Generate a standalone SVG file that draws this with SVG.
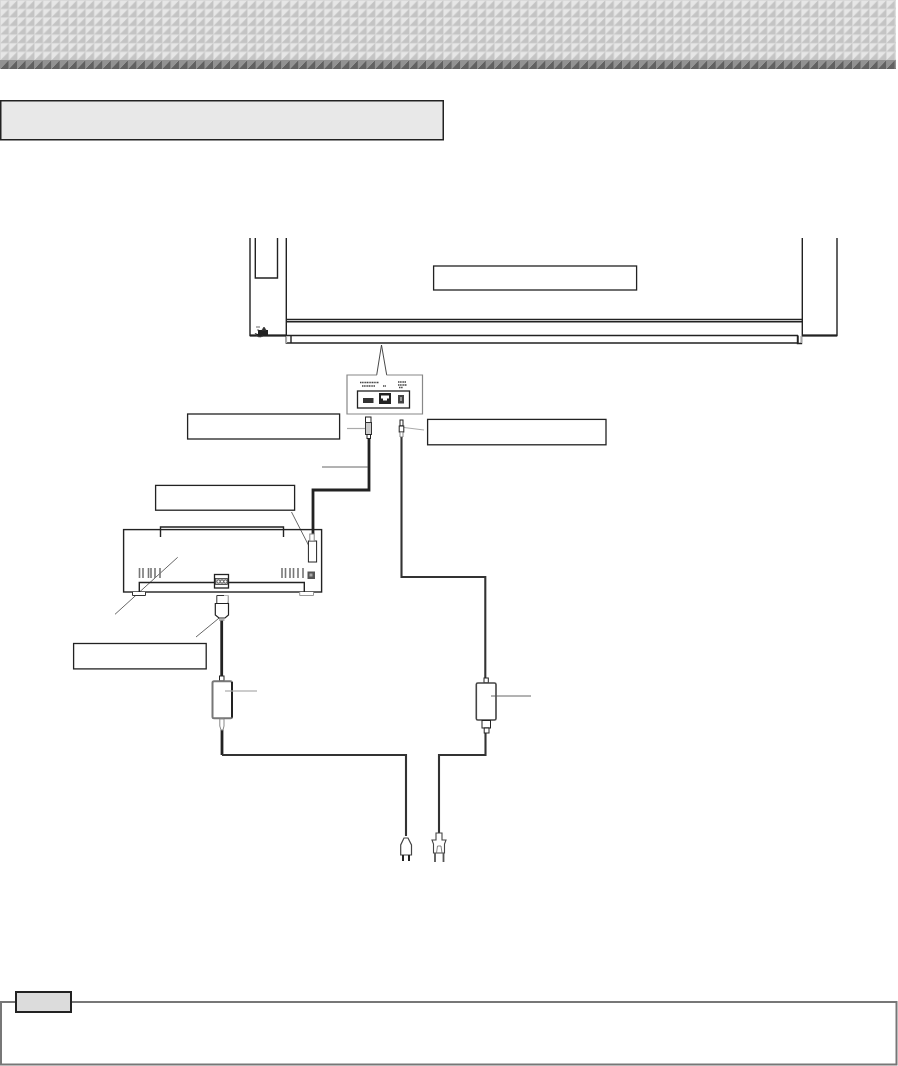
<svg xmlns="http://www.w3.org/2000/svg" width="898" height="1066" viewBox="0 0 898 1066">
<style>
.k{fill:none;stroke:#222;stroke-width:1.4}
.b{fill:#fff;stroke:#222;stroke-width:1.3}
.m{fill:#fff;stroke:#222;stroke-width:1}
.c{fill:none;stroke:#222;stroke-width:2.8}
.t{fill:none;stroke:#333;stroke-width:2.1}
.l{fill:none;stroke:#555;stroke-width:.9}
.g{fill:none;stroke:#aaa;stroke-width:1.2}
.v{stroke:#777;stroke-width:1.6}
</style>
<defs>
<pattern id="lt" x="0" y="0" width="8.52" height="8.57" patternUnits="userSpaceOnUse">
<rect width="8.52" height="8.57" fill="#d6d6d6"/>
<polygon points="0.8,0.8 8.52,0.8 0.8,8.57" fill="#e6e6e6"/>
<polygon points="8.52,0.8 8.52,8.57 0.8,8.57" fill="#c4c4c4"/>
</pattern>
<pattern id="dk" x="0" y="60" width="8.52" height="9" patternUnits="userSpaceOnUse">
<polygon points="0,0 8.52,0 0,9" fill="#929292"/>
<polygon points="8.52,0 8.52,9 0,9" fill="#626262"/>
</pattern>
</defs>
<g id="header-band">
<rect x="0" y="0" width="896" height="60" fill="url(#lt)"/>
<rect x="0" y="60" width="896" height="9" fill="url(#dk)"/>
</g>
<g id="title-box"><rect x="0.75" y="100.75" width="442.5" height="39" fill="#e8e8e8" stroke="#222" stroke-width="1.5"/></g>
<g id="tv">
<path class="k" d="M250 238V335.5H286M286.3 238V343H798V335.5M286 335.5H798M255.3 238V278H277.5V238"/>
<path d="M250 335.5H286" stroke="#222" stroke-width="2" fill="none"/>
<path class="k" d="M287 319.5H802M287 321.8H802M291 335.5V343"/>
<path class="k" d="M802.3 238V335.5H837V238"/>
<path d="M802 335.5H837" stroke="#222" stroke-width="2" fill="none"/>
<path class="k" d="M797.5 335.5V343.5H801.5V336"/>
<path d="M286.5 336V343M801.5 336V343" stroke="#aaa" stroke-width="1.2" fill="none"/>
<rect x="258" y="330" width="10" height="5" fill="#222"/>
<path d="M255 333Q258 339 263 336M262 330l2-3 2 3zM256 327h4M257 330h2" fill="#222" stroke="#444" stroke-width=".8"/>
</g>
<g id="tv-label"><rect class="b" x="433.6" y="266" width="203" height="24"/></g>
<g id="port-panel">
<path d="M376.7 375L381.5 345L386.7 375" fill="#fff" stroke="#333" stroke-width=".9"/>
<path d="M377 375H347V414H422.5V375H386.5" fill="#fff" stroke="#888" stroke-width="1.2"/>
<rect x="357.5" y="391" width="52" height="17" fill="#fff" stroke="#222" stroke-width="1.3"/>
<rect x="363" y="398" width="10.5" height="5" fill="#333"/>
<rect x="379" y="393" width="12" height="11" fill="#222"/>
<path d="M381 395.5h8v3h-2v2h-4v-2h-2z" fill="#fff"/>
<rect x="398" y="395" width="6" height="8.5" fill="#444"/>
<rect x="400" y="397" width="2" height="4" fill="#999"/>
<path d="M360 382.5H379M362 386H375M383 386H386M398 382H406M398 385H407M399 387.5H403" stroke="#444" stroke-width="1.5" stroke-dasharray="1.2 .5" fill="none"/>
</g>
<g id="label-left"><rect class="b" x="187.6" y="414" width="152" height="25"/></g>
<g id="label-right"><rect class="b" x="427.6" y="419.4" width="178.4" height="25.4"/></g>
<g id="label-device"><rect class="b" x="155.6" y="485.4" width="139" height="24.8"/></g>
<g id="label-power"><rect class="b" x="73.6" y="643.5" width="132.6" height="25.4"/></g>
<g id="connectors">
<path class="c" d="M369 438V490H313V534"/>
<path class="t" d="M401.5 436V577H485.3V679"/>
<path class="c" d="M221.7 620V677"/>
<path class="c" d="M222 730V755"/>
<path class="t" d="M222 755H406V836"/>
<path class="t" d="M485.5 733V755H439V834"/>
<path class="l" d="M322 467H368"/>
<path class="g" d="M347 428.5H366"/>
<path class="g" d="M404 427.5L424 430"/>
<path class="l" d="M291.5 512L311 550"/>
<path class="l" d="M177.7 557.3L115 614.3"/>
<path class="l" d="M224 614L196 637"/>
</g>
<g id="left-plug">
<rect class="m" x="365.5" y="417" width="5.5" height="5.5"/>
<rect x="365.5" y="422.5" width="6" height="12" fill="#ccc" stroke="#333"/>
<rect class="m" x="367" y="434.5" width="3.5" height="4"/>
</g>
<g id="right-plug">
<rect class="m" x="400" y="420" width="3" height="6"/>
<rect class="m" x="399.2" y="426" width="4.6" height="6"/>
<path d="M400 432H403V437H400z" fill="#fff" stroke="#666" stroke-width=".8"/>
</g>
<g id="device">
<rect class="k" x="123.6" y="529.6" width="198" height="62.4"/>
<path class="k" d="M160.5 537V527H283.5V537"/>
<path class="k" d="M139.3 592V582.5H214M229 582.5H304.3V592"/>
<path d="M132.5 592V595.5H145.5V592" fill="#fff" stroke="#333"/>
<path d="M299.7 592V595.5H313.5V592" fill="#fff" stroke="#999"/>
<path class="v" d="M139.5 568V578M143 568V578M148.5 568V578M151 568V578M155 568V578M160 568V578M282 568V578M285.5 568V578M290 568V578M293.5 568V578M298 568V578M303 568V578"/>
<rect x="307.5" y="571.5" width="7.5" height="7.5" fill="#555"/>
<rect x="309.5" y="573.5" width="3" height="3" fill="#aaa"/>
<rect class="b" x="214.5" y="574.5" width="14" height="13.5"/>
<rect x="215.5" y="578.5" width="12" height="6" fill="#bbb" stroke="#333" stroke-width=".8"/>
<circle cx="218.5" cy="581.5" r="1.6" fill="#fff" stroke="#333" stroke-width=".7"/>
<circle cx="222" cy="581.5" r="1.6" fill="#fff" stroke="#333" stroke-width=".7"/>
<circle cx="225.5" cy="581.5" r="1.6" fill="#fff" stroke="#333" stroke-width=".7"/>
<rect class="m" x="308.4" y="541" width="8.2" height="21"/>
<rect x="309.8" y="534" width="4.4" height="7" fill="#fff" stroke="#888"/>
</g>
<g id="power-plug">
<path d="M216.8 595.5H228V603.5H216.8z" fill="#fff" stroke="#333"/>
<path d="M224 595.5H228V603" fill="#fff" stroke="#bbb"/>
<path d="M215.3 603.5H228.5V615L225 618H219L215.3 615z" fill="#fff" stroke="#222" stroke-width="1.2"/>
<path d="M219 620H224.5" stroke="#999" stroke-width="1.5"/>
</g>
<g id="adapter-1">
<rect class="m" x="219.5" y="676" width="4.5" height="5"/>
<rect x="212.5" y="681.3" width="19.5" height="37" rx="1.5" fill="#fff" stroke="#777" stroke-width="2"/>
<path d="M232 682V717.5" stroke="#222" stroke-width="2"/>
<path d="M219.8 719H224V726L223 730H221L219.8 726z" fill="#fff" stroke="#888"/>
<path class="g" d="M225 691H257"/>
</g>
<g id="adapter-2">
<rect class="m" x="484" y="678" width="4.3" height="5"/>
<rect x="476.3" y="683" width="19.7" height="37" rx="1.5" fill="#fff" stroke="#444" stroke-width="1.6"/>
<rect class="m" x="482" y="720.5" width="8.5" height="7.5"/>
<rect class="m" x="484.2" y="728" width="4.8" height="5"/>
<path class="l" d="M491 696H531"/>
</g>
<g id="plug-1">
<path d="M404 838H408L411.5 845V855H400.7V845z" fill="#fff" stroke="#444" stroke-width="1.2"/>
<path d="M403 855V861M409 855V861" stroke="#222" stroke-width="2"/>
</g>
<g id="plug-2">
<path d="M436 833H442V840H446L444.5 844V853H433.5V844L432 840H436z" fill="#fff" stroke="#444" stroke-width="1.1"/>
<path d="M436.5 853L437.5 846H441L442 853" fill="none" stroke="#666" stroke-width=".8"/>
<path d="M435 853V862M443.5 853V862" stroke="#555" stroke-width="1.8"/>
</g>
<g id="note">
<rect x="1" y="1002" width="895.5" height="62.5" fill="#fff" stroke="#777" stroke-width="2"/>
<rect x="16" y="992" width="55" height="20" fill="#dcdcdc" stroke="#222" stroke-width="2"/>
</g>
</svg>
